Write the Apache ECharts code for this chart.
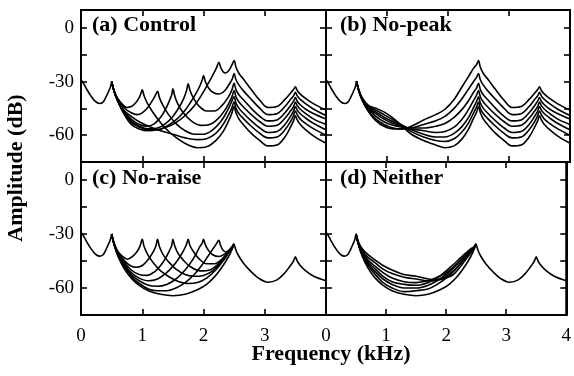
<!DOCTYPE html>
<html>
<head>
<meta charset="utf-8">
<script src="https://cdn.jsdelivr.net/npm/echarts@6/dist/echarts.min.js"></script>
<style>
  html, body { margin: 0; padding: 0; background: #fff; }
  #chart { width: 574px; height: 376px; }
</style>
</head>
<body>
<div id="chart"></div>
<script>
// shared low part: 0 -> 0.5 kHz peak (kHz, dB)
const head = [[0,-29],[0.04,-31],[0.08,-33.5],[0.16,-38],[0.23,-41],[0.3,-42.3],[0.36,-41.5],[0.41,-38.5],[0.45,-35.5],[0.48,-33],[0.5,-30]];

// upper part 2.5 -> 4 kHz
const tailFreq = [2.5,2.53,2.58,2.66,2.78,2.92,3.05,3.2,3.33,3.42,3.47,3.5,3.53,3.58,3.67,3.8,4.0];
const tailRaise = [
  [-18.3,-22,-25.5,-29,-34.5,-40.5,-44.5,-44,-40,-36.5,-34.5,-33,-35,-37,-39.5,-42.5,-46],
  [-25.5,-29,-32,-35.5,-40,-45,-48.5,-48,-44,-40,-38,-36,-38,-40,-42.5,-45.5,-49],
  [-31,-34.5,-37.5,-40.5,-45,-49.5,-52,-51.5,-47.5,-43.5,-41,-39,-41,-43,-45.5,-48,-51],
  [-35,-38.5,-41.5,-44.5,-48.5,-52.5,-55,-54.5,-50.5,-46.5,-44,-41.5,-43.5,-45.5,-48,-51,-54],
  [-38.5,-42,-45,-48,-52,-56,-58.5,-58,-54,-49.5,-46.5,-44,-46,-48,-50.5,-53.5,-57],
  [-41.5,-45,-48,-51,-55,-59,-61.5,-61,-57,-52.5,-49,-46.5,-48.5,-51,-53.5,-56.5,-60],
  [-44,-47.5,-51,-54.5,-59,-63,-66,-65.5,-61,-55.5,-52,-49,-51.5,-54,-57,-60.5,-64.5]
];
const tailFlat = [-35.5,-39,-42.5,-46.5,-51,-55,-56.8,-55.5,-51.5,-47.5,-45,-42.6,-45,-47.5,-50.5,-53.5,-56];

// (a) Control, 0.5 -> 2.5 kHz
const midControl = [
  [[0.5,-30],[0.54,-35.5],[0.6,-41],[0.7,-48],[0.82,-54],[0.95,-56.5],[1.1,-57.5],[1.25,-57],[1.4,-55.5],[1.55,-53],[1.7,-49],[1.85,-43.5],[1.97,-37.5],[2.07,-31.5],[2.15,-26.5],[2.21,-22.5],[2.25,-19.3],[2.28,-22],[2.32,-24.5],[2.36,-25.2],[2.41,-24],[2.46,-21],[2.5,-18.3]],
  [[0.5,-30],[0.54,-35.5],[0.6,-41],[0.7,-47.5],[0.82,-53],[0.95,-55.5],[1.1,-57],[1.25,-57],[1.4,-55],[1.55,-51.5],[1.7,-46],[1.8,-41],[1.88,-36.5],[1.94,-32.5],[1.98,-29],[2.0,-26.7],[2.03,-30],[2.08,-33.5],[2.15,-36],[2.25,-37],[2.35,-35],[2.42,-31.5],[2.47,-28.5],[2.5,-25.5]],
  [[0.5,-30],[0.54,-35.5],[0.6,-41],[0.7,-47],[0.82,-52],[0.95,-55],[1.1,-56.5],[1.25,-56],[1.38,-53.5],[1.5,-49.5],[1.6,-44.5],[1.67,-40],[1.72,-35.5],[1.75,-31.3],[1.78,-35],[1.84,-39.5],[1.92,-43.5],[2.05,-46.5],[2.18,-46.5],[2.3,-43.5],[2.4,-39],[2.46,-35],[2.5,-31]],
  [[0.5,-30],[0.54,-35.5],[0.6,-40.5],[0.7,-46.5],[0.82,-51],[0.95,-54],[1.08,-55],[1.2,-53.5],[1.3,-50],[1.38,-45.5],[1.44,-41],[1.48,-37.5],[1.5,-34],[1.53,-38],[1.58,-42.5],[1.67,-47.5],[1.8,-52],[1.95,-54.5],[2.1,-54],[2.23,-51],[2.35,-46],[2.43,-41],[2.47,-38],[2.5,-35]],
  [[0.5,-30],[0.54,-35.5],[0.6,-40],[0.7,-44.5],[0.82,-47.5],[0.92,-48.5],[1.0,-47.5],[1.08,-45],[1.15,-41.5],[1.21,-38],[1.25,-35.4],[1.28,-39],[1.34,-43.5],[1.43,-48.5],[1.55,-53.5],[1.7,-57.5],[1.85,-59.5],[2.0,-59.5],[2.15,-57],[2.28,-52.5],[2.38,-47],[2.45,-42],[2.5,-38.5]],
  [[0.5,-30],[0.54,-35.5],[0.6,-40.5],[0.7,-46],[0.82,-49.5],[0.95,-52.5],[1.1,-55],[1.3,-57.5],[1.5,-59.5],[1.7,-61.5],[1.9,-62.5],[2.05,-62],[2.2,-59],[2.32,-54],[2.41,-48.5],[2.46,-45],[2.5,-41.5]],
  [[0.5,-30],[0.54,-35],[0.6,-39.5],[0.67,-42.5],[0.75,-44.5],[0.82,-44],[0.89,-42],[0.95,-39],[0.98,-36.5],[1.0,-34.6],[1.03,-38],[1.08,-42],[1.17,-47],[1.3,-53],[1.45,-58.5],[1.6,-62.5],[1.75,-65.5],[1.9,-67],[2.05,-66.5],[2.2,-63],[2.32,-58],[2.41,-52],[2.46,-48],[2.5,-44]]
];

// (b) No-peak
const midNoPeak = [
  [[0.5,-30],[0.54,-35.5],[0.6,-41],[0.7,-47],[0.82,-52],[0.95,-55],[1.1,-56.5],[1.25,-56.5],[1.4,-55],[1.6,-51.5],[1.8,-48.5],[1.95,-45.5],[2.1,-40],[2.22,-33.5],[2.33,-27.5],[2.42,-22.5],[2.47,-20.5],[2.5,-18.3]],
  [[0.5,-30],[0.54,-35.5],[0.6,-41],[0.7,-46.5],[0.82,-51],[0.95,-54],[1.1,-56],[1.25,-56.5],[1.4,-56],[1.6,-54],[1.8,-52],[1.95,-49.5],[2.1,-45],[2.22,-40],[2.33,-34.5],[2.42,-30],[2.47,-27.5],[2.5,-25.5]],
  [[0.5,-30],[0.54,-35.5],[0.6,-40.5],[0.7,-45.5],[0.82,-49.5],[0.95,-52.5],[1.1,-54.5],[1.25,-55.5],[1.4,-56],[1.6,-56],[1.8,-55],[1.95,-53.5],[2.1,-50],[2.22,-46],[2.33,-41],[2.42,-36],[2.47,-33.5],[2.5,-31]],
  [[0.5,-30],[0.54,-35.5],[0.6,-40.5],[0.7,-45],[0.82,-48],[0.95,-51],[1.1,-53.5],[1.25,-55],[1.4,-56.5],[1.6,-57.5],[1.8,-58.5],[1.95,-58],[2.1,-55.5],[2.22,-51.5],[2.33,-46],[2.42,-40.5],[2.47,-37.5],[2.5,-35]],
  [[0.5,-30],[0.54,-35],[0.6,-40],[0.7,-44.5],[0.82,-47],[0.95,-50],[1.1,-52.5],[1.25,-54.5],[1.4,-57],[1.6,-59.5],[1.8,-61],[1.95,-61],[2.1,-59],[2.22,-55.5],[2.33,-50.5],[2.42,-44.5],[2.47,-41],[2.5,-38.5]],
  [[0.5,-30],[0.54,-35],[0.6,-40],[0.7,-44],[0.82,-46],[0.95,-48.5],[1.1,-51.5],[1.25,-54.5],[1.4,-58],[1.6,-61],[1.8,-63],[1.95,-63.5],[2.1,-62],[2.22,-58.5],[2.33,-53.5],[2.42,-47.5],[2.47,-44],[2.5,-41.5]],
  [[0.5,-30],[0.54,-35],[0.6,-39.5],[0.7,-43.5],[0.82,-45],[0.95,-47],[1.1,-50.5],[1.25,-55],[1.4,-59.5],[1.6,-63],[1.8,-65.5],[1.95,-67],[2.1,-66],[2.22,-62.5],[2.33,-57],[2.42,-50.5],[2.47,-47],[2.5,-44]]
];

// (c) No-raise
const midNoRaise = [
  [[0.5,-30],[0.54,-35],[0.6,-39.5],[0.68,-42.5],[0.76,-44],[0.84,-42.5],[0.91,-40],[0.96,-37],[1.0,-33],[1.03,-37],[1.09,-41.5],[1.18,-46],[1.3,-50.5],[1.45,-54],[1.6,-56.5],[1.75,-57.5],[1.9,-57],[2.05,-54.5],[2.2,-50],[2.32,-45],[2.41,-40.5],[2.46,-38],[2.5,-35.5]],
  [[0.5,-30],[0.54,-35.5],[0.6,-40],[0.7,-44.5],[0.8,-47.5],[0.9,-48.5],[1.0,-47.5],[1.1,-44],[1.17,-40.5],[1.22,-37],[1.25,-33],[1.28,-37],[1.34,-41.5],[1.43,-45.5],[1.55,-49.5],[1.7,-52.5],[1.85,-53.5],[2.0,-53],[2.15,-50.5],[2.28,-46],[2.38,-41.5],[2.45,-38.5],[2.5,-35.5]],
  [[0.5,-30],[0.54,-35.5],[0.6,-40.5],[0.7,-45.5],[0.82,-50],[0.95,-52.5],[1.08,-53],[1.2,-51],[1.3,-47.5],[1.38,-43.5],[1.44,-39.5],[1.48,-36.5],[1.5,-33],[1.53,-36.5],[1.58,-40.5],[1.67,-44.5],[1.8,-48.5],[1.95,-50.5],[2.1,-50],[2.23,-47],[2.35,-42.5],[2.43,-39],[2.5,-35.5]],
  [[0.5,-30],[0.54,-35.5],[0.6,-41],[0.7,-46.5],[0.82,-51.5],[0.95,-54.5],[1.1,-56],[1.25,-55],[1.38,-52],[1.5,-48],[1.6,-43.5],[1.67,-39.5],[1.72,-36],[1.75,-33],[1.78,-36.5],[1.84,-40],[1.92,-43.5],[2.05,-46.5],[2.18,-46.5],[2.3,-44],[2.4,-40],[2.46,-37.5],[2.5,-35.5]],
  [[0.5,-30],[0.54,-35.5],[0.6,-41],[0.7,-47],[0.82,-52.5],[0.95,-56],[1.1,-58.5],[1.25,-59],[1.4,-58],[1.55,-55],[1.7,-50],[1.8,-45.5],[1.88,-41],[1.94,-37],[1.98,-35],[2.0,-33],[2.03,-36],[2.08,-39],[2.15,-41.5],[2.25,-42.5],[2.35,-41],[2.43,-38.5],[2.5,-35.5]],
  [[0.5,-30],[0.54,-35.5],[0.6,-41.5],[0.7,-48],[0.82,-53.5],[0.95,-57.5],[1.1,-60.5],[1.25,-61.5],[1.4,-61.5],[1.55,-60],[1.7,-57],[1.85,-52.5],[1.97,-47.5],[2.07,-42.5],[2.15,-38.5],[2.21,-35.5],[2.25,-33.5],[2.28,-36.5],[2.32,-39],[2.37,-40],[2.42,-39],[2.47,-37.5],[2.5,-35.5]],
  [[0.5,-30],[0.54,-36],[0.6,-42],[0.7,-49],[0.82,-54.5],[0.95,-58.5],[1.1,-61.5],[1.3,-63.5],[1.5,-64.3],[1.7,-63.5],[1.9,-61],[2.05,-58],[2.2,-53],[2.32,-47.5],[2.41,-42.5],[2.46,-39],[2.5,-35.5]]
];

// (d) Neither
const midNeither = [
  [[0.5,-30],[0.54,-34.5],[0.6,-38],[0.7,-41.5],[0.82,-44.5],[0.95,-47.5],[1.1,-50],[1.3,-52.5],[1.5,-53.5],[1.7,-55],[1.85,-55.5],[2.0,-54.5],[2.12,-52.5],[2.23,-48.5],[2.33,-44],[2.42,-40],[2.47,-37.5],[2.5,-35.5]],
  [[0.5,-30],[0.54,-35],[0.6,-39],[0.7,-43],[0.82,-46],[0.95,-49.5],[1.1,-52],[1.3,-54],[1.5,-55],[1.7,-56],[1.85,-55.5],[2.0,-53.5],[2.12,-50.5],[2.23,-47],[2.33,-43],[2.42,-39.5],[2.47,-37.5],[2.5,-35.5]],
  [[0.5,-30],[0.54,-35],[0.6,-40],[0.7,-44.5],[0.82,-48],[0.95,-51.5],[1.1,-54.5],[1.3,-56.5],[1.5,-57],[1.7,-56],[1.85,-54],[2.0,-51.5],[2.12,-48.5],[2.23,-45],[2.33,-41.5],[2.42,-38.5],[2.47,-37],[2.5,-35.5]],
  [[0.5,-30],[0.54,-35.5],[0.6,-40.5],[0.7,-45.5],[0.82,-49.5],[0.95,-53.5],[1.1,-56.5],[1.3,-58],[1.5,-58.5],[1.7,-57],[1.85,-54.5],[2.0,-50.5],[2.12,-47],[2.23,-43.5],[2.33,-40.5],[2.42,-38],[2.47,-37],[2.5,-35.5]],
  [[0.5,-30],[0.54,-35.5],[0.6,-41],[0.7,-46.5],[0.82,-51],[0.95,-55],[1.1,-58],[1.3,-60],[1.5,-60],[1.7,-58.5],[1.85,-56],[2.0,-52.5],[2.12,-49],[2.23,-45],[2.33,-41.5],[2.42,-38.5],[2.47,-37],[2.5,-35.5]],
  [[0.5,-30],[0.54,-35.5],[0.6,-41.5],[0.7,-47.5],[0.82,-52.5],[0.95,-57],[1.1,-60],[1.3,-62],[1.5,-61.5],[1.7,-60.5],[1.85,-58],[2.0,-54.5],[2.12,-51],[2.23,-46.5],[2.33,-42.5],[2.42,-39],[2.47,-37],[2.5,-35.5]],
  [[0.5,-30],[0.54,-36],[0.6,-42],[0.7,-49],[0.82,-54.5],[0.95,-58.5],[1.1,-61.5],[1.3,-63.5],[1.5,-64.3],[1.7,-63.5],[1.9,-61],[2.05,-58],[2.2,-53],[2.32,-47.5],[2.41,-42.5],[2.46,-39],[2.5,-35.5]]
];

const panelTitles = ['(a) Control', '(b) No-peak', '(c) No-raise', '(d) Neither'];
const yTickLabels = [0, -30, -60];

const chart = echarts.init(document.getElementById('chart'));
const SERIF = '"Liberation Serif", "Times New Roman", serif';

const grids = [
  { left: 81, top: 10, width: 245, height: 152 },
  { left: 326, top: 10, width: 244, height: 152 },
  { left: 81, top: 162, width: 245, height: 153 },
  { left: 326, top: 162, width: 244, height: 153 }
].map(g => Object.assign(g, { show: true, borderColor: '#000', borderWidth: 2, backgroundColor: 'transparent' }));

const tick = () => ({ show: true, inside: true, length: 6, lineStyle: { color: '#000', width: 1.6 } });
const frameLine = () => ({ show: true, onZero: false, lineStyle: { color: '#000', width: 2 } });
const labelStyle = { color: '#000', fontFamily: SERIF, fontSize: 19 };

const xAxes = [], yAxes = [];
for (let g = 0; g < 4; g++) {
  const showX = g >= 2;
  xAxes.push({
    type: 'value', gridIndex: g, min: 0, max: 4, interval: 1, position: 'bottom',
    axisLine: frameLine(), axisTick: tick(), splitLine: { show: false },
    axisLabel: Object.assign({ show: showX, margin: 12,
      formatter: v => (g === 2 && v === 4) ? '' : String(v) }, labelStyle)
  });
  yAxes.push({
    type: 'value', gridIndex: g, min: -75, max: 10, interval: 15, position: 'left',
    axisLine: frameLine(), axisTick: tick(), splitLine: { show: false },
    axisLabel: Object.assign({ show: g % 2 === 0, margin: 7,
      formatter: v => yTickLabels.includes(v) ? String(v) : '' }, labelStyle)
  });
}
for (let g = 0; g < 4; g++) {
  xAxes.push({ type: 'value', gridIndex: g, min: 0, max: 4, interval: 1, position: 'top',
    axisLine: frameLine(), axisTick: tick(), splitLine: { show: false }, axisLabel: { show: false } });
  yAxes.push({ type: 'value', gridIndex: g, min: -75, max: 10, interval: 15, position: 'right',
    axisLine: frameLine(), axisTick: tick(), splitLine: { show: false }, axisLabel: { show: false } });
}

const lineStyle = { color: '#000', width: 1.6 };
function line(g, data) {
  return { type: 'line', xAxisIndex: g, yAxisIndex: g, data, smooth: 0.35, showSymbol: false,
    lineStyle, silent: true, animation: false };
}
const tailPairs = vals => tailFreq.map((f, i) => [f, vals[i]]);

const series = [];
// raised panels: each curve carries its own upper part
[midControl, midNoPeak].forEach((mids, g) => {
  series.push(line(g, head));
  mids.forEach((m, i) => series.push(line(g, m.concat(tailPairs(tailRaise[i]).slice(1)))));
});
// flat panels: shared upper part
[midNoRaise, midNeither].forEach((mids, k) => {
  const g = k + 2;
  series.push(line(g, head));
  mids.forEach(m => series.push(line(g, m)));
  series.push(line(g, tailPairs(tailFlat)));
});

const titlePos = [[92, 25], [340, 25], [92, 178], [340, 178]];
const graphic = panelTitles.map((t, i) => ({
  type: 'text', x: titlePos[i][0], y: titlePos[i][1], z: 100,
  style: { text: t, font: 'bold 22px ' + SERIF, fill: '#000', textAlign: 'left', textVerticalAlign: 'middle' }
}));
graphic.push({
  type: 'text', x: 331, y: 354,
  style: { text: 'Frequency (kHz)', font: 'bold 22px ' + SERIF, fill: '#000', textAlign: 'center', textVerticalAlign: 'middle' }
});
graphic.push({
  type: 'text', x: 16, y: 168, rotation: Math.PI / 2,
  style: { text: 'Amplitude (dB)', font: 'bold 22px ' + SERIF, fill: '#000', textAlign: 'center', textVerticalAlign: 'middle' }
});

chart.setOption({
  backgroundColor: '#fff',
  animation: false,
  grid: grids,
  xAxis: xAxes,
  yAxis: yAxes,
  series,
  graphic
});
</script>
</body>
</html>
